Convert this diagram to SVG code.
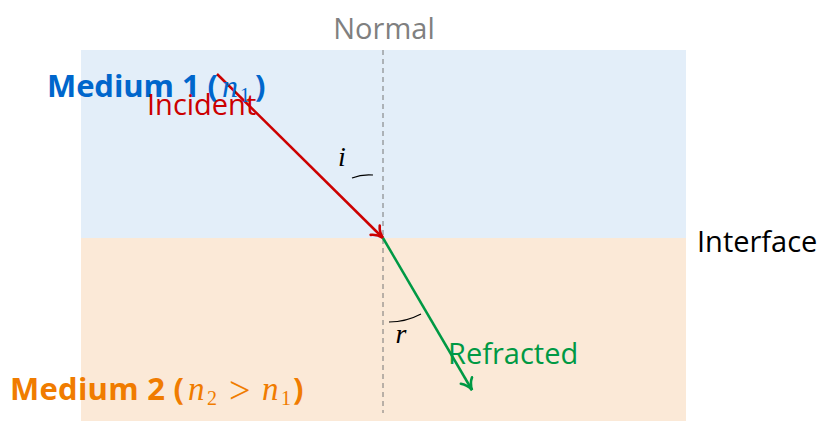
<svg xmlns="http://www.w3.org/2000/svg" width="821" height="421" viewBox="0 0 821 421">
<style>
.lbl{font-family:"Open Sans","Noto Sans",sans-serif}
.math{font-family:"Liberation Serif","DejaVu Serif",serif;font-style:italic;font-weight:normal}
.sub{font-family:"Liberation Serif","DejaVu Serif",serif;font-style:normal;font-weight:normal;font-size:20px}
.rel{font-family:"Liberation Serif","DejaVu Serif",serif;font-style:normal;font-weight:normal;font-size:38px}
.med{font-family:"Open Sans","Noto Sans",sans-serif;font-weight:bold;font-size:31px}
.blue{fill:#0066cc}
.orange{fill:#f07c00}
</style>
<defs>
<marker id="ahR" viewBox="0 0 16 16" refX="13" refY="8" markerWidth="16" markerHeight="16" markerUnits="userSpaceOnUse" orient="auto">
<path d="M2,1.5 Q6,6.5 13,8 Q6,9.5 2,14.5" fill="none" stroke="#cc0000" stroke-width="2.6" stroke-linecap="round"/>
</marker>
<marker id="ahG" viewBox="0 0 16 16" refX="13" refY="8" markerWidth="16" markerHeight="16" markerUnits="userSpaceOnUse" orient="auto">
<path d="M2,1.5 Q6,6.5 13,8 Q6,9.5 2,14.5" fill="none" stroke="#009944" stroke-width="2.6" stroke-linecap="round"/>
</marker>
</defs>
<g id="media">
<rect id="medium1-bg" x="81" y="50" width="605" height="188" fill="#e3eef9"/>
<rect id="medium2-bg" x="81" y="238" width="605" height="183" fill="#fbe9d7"/>
</g>
<g id="normal">
<line x1="383" y1="50" x2="383" y2="413" stroke="#777" stroke-width="1" stroke-dasharray="5,4"/>
<text class="lbl" x="384" y="39" font-size="29" fill="#808080" text-anchor="middle">Normal</text>
</g>
<g id="connectors">
<line id="incident" x1="217" y1="74" x2="383" y2="238" stroke="#cc0000" stroke-width="2.5" marker-end="url(#ahR)"/>
<line id="refracted" x1="383" y1="238" x2="472" y2="390" stroke="#009944" stroke-width="2.5" marker-end="url(#ahG)"/>
<path id="arc-i" d="M352,178 Q362,174 373,175" fill="none" stroke="#000" stroke-width="1.2"/>
<path id="arc-r" d="M389,322 Q406,322 421,314" fill="none" stroke="#000" stroke-width="1.2"/>
</g>
<g id="angle-labels">
<text class="math" x="342" y="166" font-size="28" fill="#000" text-anchor="middle">i</text>
<text class="math" x="401" y="343" font-size="28" fill="#000" text-anchor="middle">r</text>
</g>
<g id="medium1">
<text class="med blue" x="47" y="97" textLength="171" lengthAdjust="spacing">Medium 1 (</text>
<text class="math blue" x="222" y="97" font-size="32">n</text>
<text class="sub blue" x="240" y="102">1</text>
<text class="med blue" x="255" y="97">)</text>
</g>
<g id="medium2">
<text class="med orange" x="10" y="400" textLength="174" lengthAdjust="spacing">Medium 2 (</text>
<text class="math orange" x="188" y="400" font-size="33">n</text>
<text class="sub orange" x="207" y="405">2</text>
<text class="rel orange" x="229" y="403">&gt;</text>
<text class="math orange" x="262" y="400" font-size="33">n</text>
<text class="sub orange" x="281" y="405">1</text>
<text class="med orange" x="293" y="400">)</text>
</g>
<g id="incident-label">
<text class="lbl" x="147" y="115" font-size="29" fill="#cc0000">Incident</text>
</g>
<g id="refracted-label">
<text class="lbl" x="448" y="364" font-size="29" fill="#009944">Refracted</text>
</g>
<g id="interface-label">
<text class="lbl" x="697" y="252" font-size="29" fill="#000">Interface</text>
</g>
</svg>
